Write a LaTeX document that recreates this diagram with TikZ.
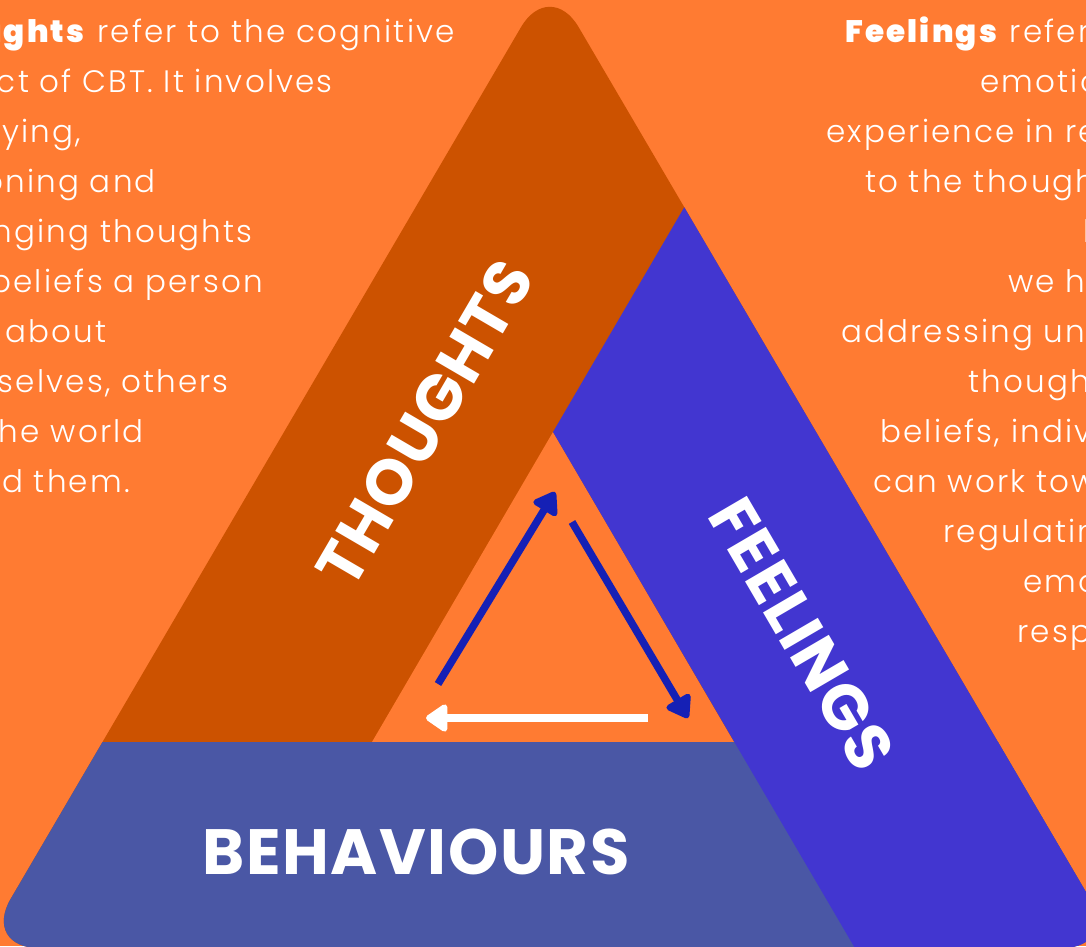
\documentclass[tikz,border=0pt]{standalone}
\usepackage{fontspec}
\setmainfont{Poppins}[UprightFont={* Light}, BoldFont={* Black}, LetterSpace=7]
\newfontfamily\headfont{Poppins}[UprightFont={* Bold}, LetterSpace=2.5]
\usetikzlibrary{arrows.meta}

\definecolor{bgorange}{HTML}{FF7B32}
\definecolor{thoughtsfill}{HTML}{CC5200}
\definecolor{feelingsfill}{HTML}{4236D0}
\definecolor{behavfill}{HTML}{4A57A5}
\definecolor{flowblue}{HTML}{1520B5}

\begin{document}
\begin{tikzpicture}[x=1pt, y=-1pt,
  body/.style={text=white, inner sep=0pt, font=\fontsize{31}{37}\selectfont},
  heading/.style={text=white, inner sep=0pt, font=\headfont\fontsize{64}{64}\selectfont},
  flow/.style={line width=7.5pt, -{Triangle[length=24pt, width=31pt, round]}},
]
\useasboundingbox (0,0) rectangle (1086,946);
\clip (0,0) rectangle (1086,946);
\fill[bgorange] (0,0) rectangle (1086,946);

% corners of the big rounded triangle and of the inner one
\coordinate (apex) at (549.8,-22);
\coordinate (bl) at (-18.1,948);
\coordinate (br) at (1118.8,948);
\coordinate (inL) at (372,742);
\coordinate (inT) at (553,432);
\coordinate (inR) at (734,742);

\begin{scope}
  \clip[rounded corners=57pt] (550,948) -- (br) -- (apex) -- (bl) -- cycle;
  % thoughts band (the whole triangle first)
  \fill[thoughtsfill] (-50,-50) rectangle (1200,1000);
  % inner orange triangle
  \fill[bgorange] (inL) -- (inT) -- (inR) -- cycle;
  % behaviours strip
  \fill[behavfill] (-50,742) rectangle (1200,1000);
  % feelings band
  \fill[feelingsfill] (inT) -- (805.3,0) -- (1200,0) -- (1200,1000) -- (885.3,1000) -- cycle;
\end{scope}

% band titles
\node[heading, rotate=59.7] (thoughts) at (425,423) {THOUGHTS};
\node[heading, rotate=-59.7] (feelings) at (802,634) {FEELINGS};
\node[heading] (behaviours) at (416,852) {BEHAVIOURS};

% cycle arrows
\coordinate (t1) at (438,684);
\coordinate (h1) at (555,492);
\coordinate (t2) at (572,522);
\coordinate (h2) at (688,718);
\coordinate (t3) at (648,718);
\coordinate (h3) at (426,718);
\draw[flow, flowblue] (t1) -- (h1);
\draw[flow, flowblue] (t2) -- (h2);
\draw[flow, white] (t3) -- (h3);

% left description
\node[body, anchor=base east] (l1) at (455,42.7) {\textbf{Thoughts} refer to the cognitive};
\node[body, anchor=base east] (l2) at (333,92.7) {aspect of CBT. It involves};
\node[body, anchor=base east] (l3) at (81,142.7) {identifying,};
\node[body, anchor=base east] (l4) at (156,192.7) {questioning and};
\node[body, anchor=base east] (l5) at (253,242.7) {challenging thoughts};
\node[body, anchor=base east] (l6) at (263,292.7) {and beliefs a person};
\node[body, anchor=base east] (l7) at (107,342.7) {has about};
\node[body, anchor=base east] (l8) at (229,392.7) {themselves, others};
\node[body, anchor=base east] (l9) at (144,442.7) {and the world};
\node[body, anchor=base east] (l10) at (130,492.7) {around them.};

% right description
\node[body, anchor=base west] (r1) at (845,42.7) {\textbf{Feelings} refer to the};
\node[body, anchor=base west] (r2) at (980,92.7) {emotions we};
\node[body, anchor=base west] (r3) at (826,142.7) {experience in response};
\node[body, anchor=base west] (r4) at (865,192.7) {to the thoughts and};
\node[body, anchor=base west] (r5) at (1083,242.7) {beliefs};
\node[body, anchor=base west] (r6) at (1008,292.7) {we have. By};
\node[body, anchor=base west] (r7) at (841,342.7) {addressing unhelpful};
\node[body, anchor=base west] (r8) at (968,392.7) {thoughts and};
\node[body, anchor=base west] (r9) at (880,442.7) {beliefs, individuals};
\node[body, anchor=base west] (r10) at (873,492.7) {can work towards};
\node[body, anchor=base west] (r11) at (943,542.7) {regulating their};
\node[body, anchor=base west] (r12) at (1023,592.7) {emotional};
\node[body, anchor=base west] (r13) at (1017,642.7) {responses.};
\end{tikzpicture}
\end{document}
